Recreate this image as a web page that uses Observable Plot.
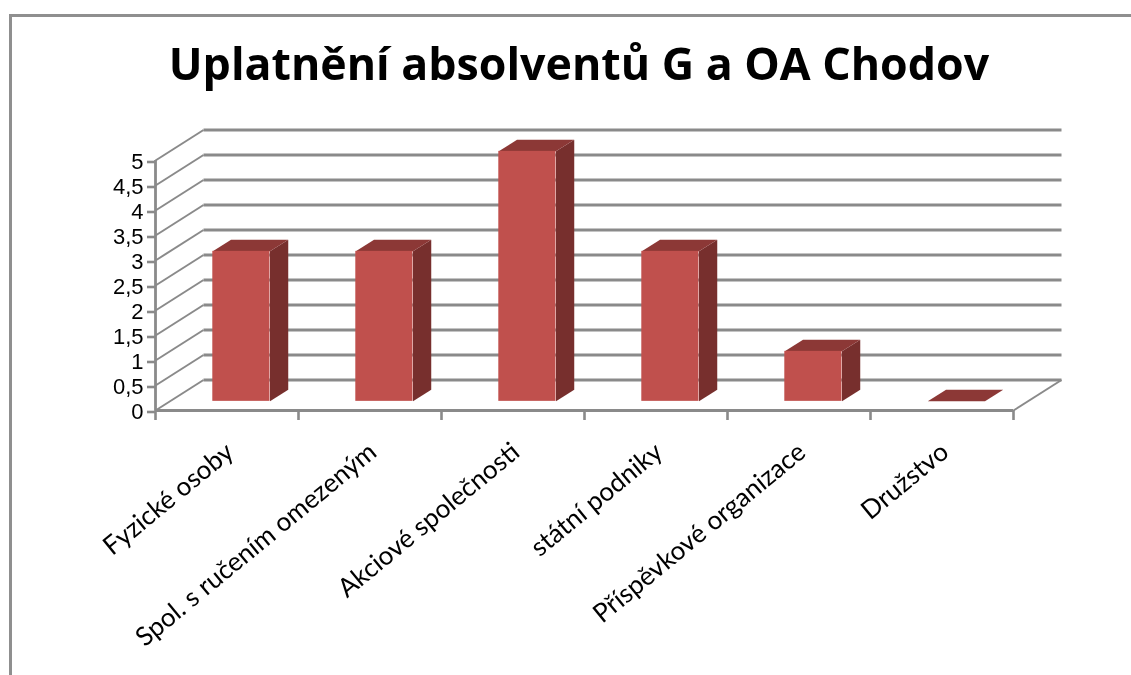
<!DOCTYPE html>
<html lang="cs">
<head>
<meta charset="utf-8">
<script src="https://cdn.jsdelivr.net/npm/d3@7"></script>
<script src="https://cdn.jsdelivr.net/npm/@observablehq/plot@0.6"></script>
<style>
html,body{margin:0;padding:0;background:#fff;width:1131px;height:675px;overflow:hidden}
#chart{position:absolute;left:0;top:0;width:1131px;height:675px;filter:blur(.45px)}
#frame{position:absolute;left:9px;top:14px;width:1122px;height:661px;border-top:3px solid #8f8f8f;border-left:3px solid #8f8f8f;box-sizing:border-box}
#title{position:absolute;left:79px;top:33px;width:1000px;text-align:center;font:700 44.7px "Open Sans",sans-serif;color:#000;white-space:nowrap;line-height:60px}
svg{display:block}
</style>
</head>
<body>
<div id="chart">
<div id="frame"></div>
<div id="title"></div>
</div>
<script>
const chartTitle = "Uplatnění absolventů G a OA Chodov";
const categories = ["Fyzické osoby", "Spol. s ručením omezeným", "Akciové společnosti", "státní podniky", "Příspěvkové organizace", "Družstvo"];
const values = [3, 3, 5, 3, 1, 0];
const yTicks = [0, 0.5, 1, 1.5, 2, 2.5, 3, 3.5, 4, 4.5, 5];
const xEdges = [0, 1, 2, 3, 4, 5, 6];

// oblique projection of the 3D box, in data units of the two scales
const depthX = 48 / 143, depthY = 30.5 / 50;
const X = (x, z) => x + z * depthX;
const Y = (v, z) => v + z * depthY;
const barStart = 0.3, barWidth = 0.4, zFront = 0.3, zBack = 0.68;

const polygon = (id, pts) => pts.map(([x, v, z]) => ({id, x: X(x, z), y: Y(v, z)}));
const sides = categories.flatMap((c, i) => {
  const r = i + barStart + barWidth, v = values[i];
  return v > 0 ? polygon(c, [[r, 0, zFront], [r, 0, zBack], [r, v, zBack], [r, v, zFront]]) : [];
});
const tops = categories.flatMap((c, i) => {
  const l = i + barStart, r = l + barWidth, v = values[i];
  return polygon(c, [[l, v, zFront], [r, v, zFront], [r, v, zBack], [l, v, zBack]]);
});
const fronts = categories.map((c, i) => ({
  x1: X(i + barStart, zFront), x2: X(i + barStart + barWidth, zFront),
  y1: Y(0, zFront), y2: Y(values[i], zFront)
}));

const gridColor = "#8a8a8a";
const plot = Plot.plot({
  width: 1131, height: 675,
  marginLeft: 155, marginRight: 118, marginTop: 160, marginBottom: 265,
  style: {background: "transparent", overflow: "visible"},
  x: {domain: [0, 6], axis: null},
  y: {domain: [0, 5], axis: null},
  marks: [
    // back wall gridlines
    Plot.link(yTicks, {x1: X(0, 1), x2: X(6, 1), y1: d => Y(d, 1), y2: d => Y(d, 1), stroke: gridColor, strokeWidth: 2.8}),
    // side wall gridlines
    Plot.link(yTicks, {x1: X(0, 0), x2: X(0, 1), y1: d => Y(d, 0), y2: d => Y(d, 1), stroke: gridColor, strokeWidth: 2}),
    // floor right edge
    Plot.link([0], {x1: X(6, 0), x2: X(6, 1), y1: Y(0, 0), y2: Y(0, 1), stroke: gridColor, strokeWidth: 2}),
    // axes
    Plot.ruleX([0], {y1: 0, y2: 5, stroke: gridColor, strokeWidth: 2.8}),
    Plot.ruleY([0], {x1: 0, x2: 6, stroke: gridColor, strokeWidth: 2.8}),
    Plot.axisY({
      ticks: yTicks, tickSize: 8, tickPadding: 4, stroke: gridColor, strokeWidth: 2.6,
      tickFormat: d => String(d).replace(".", ","), label: null,
      fontSize: 22, fontFamily: "Liberation Sans", fill: "#000", dy: 1.5
    }),
    Plot.axisX({ticks: xEdges, tickSize: 10, tickFormat: () => "", label: null, stroke: gridColor, strokeWidth: 2.6}),
    // bars
    Plot.line(sides, {x: "x", y: "y", z: "id", fill: "#772f2d", stroke: "none"}),
    Plot.line(tops, {x: "x", y: "y", z: "id", fill: "#8c3836", stroke: "none"}),
    Plot.rect(fronts, {x1: "x1", x2: "x2", y1: "y1", y2: "y2", fill: "#c0504d"}),
    // category labels
    Plot.text(categories, {
      x: (d, i) => i + 0.5, y: 0, text: d => d, rotate: -39.5, textAnchor: "end",
      dx: 3, dy: 38, fontSize: 26, fontFamily: "Lato", fill: "#000"
    })
  ]
});
document.getElementById("chart").append(plot);
document.getElementById("title").textContent = chartTitle;
</script>
</body>
</html>
